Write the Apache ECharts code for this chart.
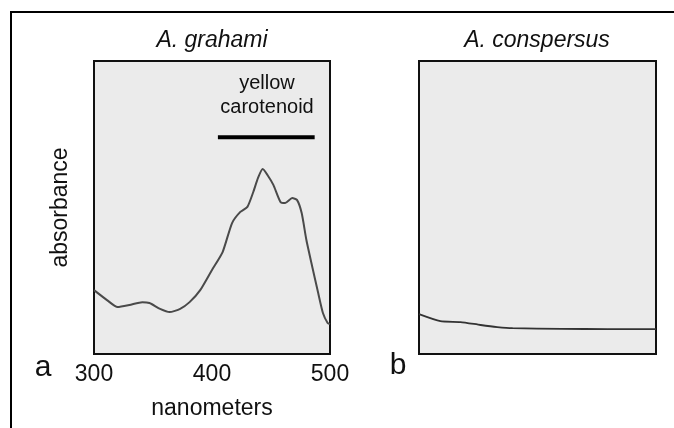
<!DOCTYPE html>
<html>
<head>
<meta charset="utf-8">
<script src="https://cdn.jsdelivr.net/npm/echarts@6/dist/echarts.min.js"></script>
<style>
  html, body { margin: 0; padding: 0; background: #fff; }
  #main { width: 674px; height: 428px; }
</style>
</head>
<body>
<div id="main"></div>
<script>
// absorbance spectra (arbitrary units, 0-100)
const wavelengthsA = [300, 311, 320, 330, 341, 347, 356, 364, 373, 381, 390, 400, 409, 417, 424, 430, 435, 439, 443, 447, 452, 458, 462, 468, 472, 476, 480, 485, 490, 494, 498, 500]
const absorbanceA = [21.8, 18.4, 16.0, 16.7, 17.7, 17.4, 15.4, 14.3, 15.4, 17.7, 21.8, 28.7, 34.8, 44.7, 48.5, 50.2, 55.3, 60.1, 63.1, 61.1, 57.7, 51.9, 51.5, 53.2, 52.6, 48.1, 38.9, 29.7, 20.8, 14.0, 10.6, 10.2]
const wavelengthsB = [300, 318, 335, 352, 366, 379, 420, 459, 500]
const absorbanceB = [13.6, 11.2, 10.9, 9.9, 9.2, 8.8, 8.6, 8.5, 8.5]
const xTicks = [300, 400, 500]
const carotenoidBand = [405, 487]
const carotenoidLevel = [74, 74]
const panelTitles = ['A. grahami', 'A. conspersus']
const panelLetters = ['a', 'b']

const font = 'Liberation Sans, Arial, sans-serif'
const myChart = echarts.init(document.getElementById('main'))

const gridBase = {
  top: 61,
  height: 293,
  show: true,
  backgroundColor: '#ebebeb',
  borderColor: '#111',
  borderWidth: 2
}

const option = {
  animation: false,
  title: [
    { text: panelTitles[0], left: 212, top: 29, textAlign: 'center', padding: 0,
      textStyle: { fontFamily: font, fontStyle: 'italic', fontWeight: 'normal', fontSize: 23, color: '#111' } },
    { text: panelTitles[1], left: 537, top: 29, textAlign: 'center', padding: 0,
      textStyle: { fontFamily: font, fontStyle: 'italic', fontWeight: 'normal', fontSize: 23, color: '#111' } }
  ],
  grid: [
    Object.assign({ left: 94, width: 236 }, gridBase),
    Object.assign({ left: 419, width: 237 }, gridBase)
  ],
  xAxis: [
    {
      type: 'value',
      gridIndex: 0,
      min: 300,
      max: 500,
      interval: 100,
      name: 'nanometers',
      nameLocation: 'middle',
      nameGap: 43,
      nameTextStyle: { fontFamily: font, fontSize: 23, color: '#111' },
      axisLine: { show: false },
      axisTick: { show: false },
      splitLine: { show: false },
      axisLabel: {
        fontFamily: font,
        fontSize: 23,
        color: '#111',
        margin: 9,
        customValues: xTicks
      }
    },
    {
      type: 'value',
      gridIndex: 1,
      min: 300,
      max: 500,
      axisLine: { show: false },
      axisTick: { show: false },
      splitLine: { show: false },
      axisLabel: { show: false }
    }
  ],
  yAxis: [
    {
      type: 'value',
      gridIndex: 0,
      min: 0,
      max: 100,
      name: 'absorbance',
      nameLocation: 'middle',
      nameRotate: 90,
      nameGap: 22,
      nameTextStyle: { fontFamily: font, fontSize: 23, color: '#111' },
      axisLine: { show: false },
      axisTick: { show: false },
      splitLine: { show: false },
      axisLabel: { show: false }
    },
    {
      type: 'value',
      gridIndex: 1,
      min: 0,
      max: 100,
      axisLine: { show: false },
      axisTick: { show: false },
      splitLine: { show: false },
      axisLabel: { show: false }
    }
  ],
  series: [
    {
      name: 'A. grahami',
      type: 'line',
      xAxisIndex: 0,
      yAxisIndex: 0,
      symbol: 'none',
      smooth: 0.2,
      lineStyle: { color: '#4a4a4a', width: 2 },
      data: wavelengthsA.map((w, i) => [w, absorbanceA[i]])
    },
    {
      name: 'yellow carotenoid',
      type: 'line',
      xAxisIndex: 0,
      yAxisIndex: 0,
      symbol: 'none',
      lineStyle: { color: '#000', width: 4, cap: 'butt' },
      data: carotenoidBand.map((w, i) => [w, carotenoidLevel[i]])
    },
    {
      name: 'A. conspersus',
      type: 'line',
      xAxisIndex: 1,
      yAxisIndex: 1,
      symbol: 'none',
      smooth: 0.2,
      lineStyle: { color: '#333', width: 1.8 },
      data: wavelengthsB.map((w, i) => [w, absorbanceB[i]])
    }
  ],
  graphic: [
    {
      type: 'polyline',
      shape: { points: [[11, 430], [11, 12], [676, 12]] },
      style: { stroke: '#000', lineWidth: 2, fill: null }
    },
    {
      type: 'text',
      x: 267,
      y: 95,
      style: {
        text: 'yellow\ncarotenoid',
        fontFamily: font,
        fontSize: 20,
        lineHeight: 24,
        fill: '#111',
        align: 'center',
        verticalAlign: 'middle'
      }
    },
    {
      type: 'text',
      x: 43,
      y: 368,
      style: { text: panelLetters[0], fontFamily: font, fontSize: 30, fill: '#111', align: 'center', verticalAlign: 'middle' }
    },
    {
      type: 'text',
      x: 398,
      y: 366,
      style: { text: panelLetters[1], fontFamily: font, fontSize: 30, fill: '#111', align: 'center', verticalAlign: 'middle' }
    }
  ]
}

myChart.setOption(option)
</script>
</body>
</html>
